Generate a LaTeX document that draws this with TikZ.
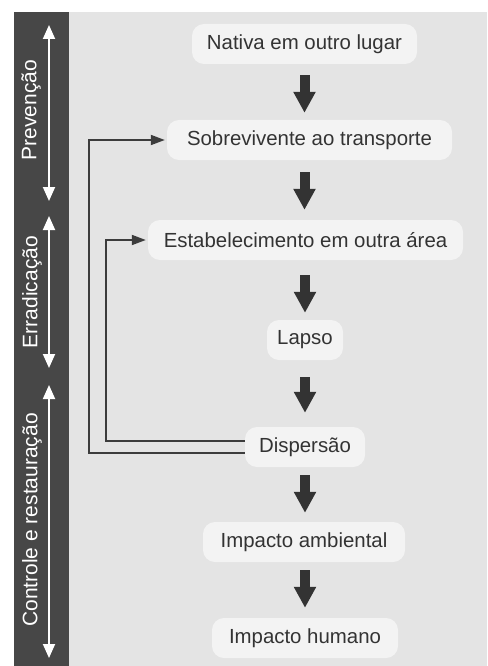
\documentclass[tikz,border=0pt]{standalone}
\usepackage{fontspec}
\setmainfont{Liberation Sans}
\usetikzlibrary{arrows.meta}
\definecolor{bandgrey}{HTML}{474747}
\definecolor{bggrey}{HTML}{E4E4E4}
\definecolor{boxgrey}{HTML}{F3F3F3}
\definecolor{txtgrey}{HTML}{333333}
\definecolor{arrgrey}{HTML}{333333}
\definecolor{linegrey}{HTML}{3C3C3C}
\tikzset{
  stage/.style={rectangle, rounded corners=12pt, fill=boxgrey, text=txtgrey,
    minimum height=40pt, inner sep=0pt,
    font=\fontsize{20.4}{24}\selectfont},
  blockarrow/.style={draw=arrgrey, line width=10pt,
    -{Triangle[width=21pt,length=21pt]}},
  feedback/.style={draw=linegrey, line width=1.8pt,
    -{Triangle[width=10pt,length=14pt]}, shorten >=2pt},
  phase/.style={rotate=90, text=white, font=\fontsize{21}{25}\selectfont},
  phasearrow/.style={draw=white, line width=1.8pt,
    {Triangle[width=12pt,length=14pt]}-{Triangle[width=12pt,length=14pt]}}
}
\begin{document}
\begin{tikzpicture}[x=1pt,y=-1pt]
  \useasboundingbox (0,0) rectangle (487,666);
  \fill[white] (0,0) rectangle (487,666);
  \fill[bggrey] (69,12) rectangle (487,666);
  \fill[bandgrey] (14,12) rectangle (69,666);

  % phase arrows and labels
  \coordinate (p1a) at (49,25);  \coordinate (p1b) at (49,201);
  \coordinate (p2a) at (49,216); \coordinate (p2b) at (49,368);
  \coordinate (p3a) at (49,385); \coordinate (p3b) at (49,658);
  \draw[phasearrow] (p1a) -- (p1b);
  \draw[phasearrow] (p2a) -- (p2b);
  \draw[phasearrow] (p3a) -- (p3b);
  \node[phase] (prev) at (31,110) {Prevenção};
  \node[phase] (erra) at (32,292) {Erradicação};
  \node[phase] (cont) at (32,520) {Controle e restauração};

  % stages
  \node[stage, minimum width=225pt] (nat) at (304.5,44) {Nativa em outro lugar};
  \node[stage, minimum width=285pt] (sob) at (309.5,140) {Sobrevivente ao transporte};
  \node[stage, minimum width=315pt] (est) at (305.5,240) {Estabelecimento em outra área};
  \node[stage, minimum width=76pt]  (lap) at (305,340) {Lapso};
  \node[stage, minimum width=120pt] (dis) at (305,447) {Dispersão};
  \node[stage, minimum width=202pt] (iam) at (304,542) {Impacto ambiental};
  \node[stage, minimum width=186pt] (ihu) at (305,638) {Impacto humano};

  % block arrows
  \draw[blockarrow, shorten <=11pt, shorten >=7pt] (nat.south) -- (nat.south |- sob.north);
  \draw[blockarrow, shorten <=12pt, shorten >=10pt] (sob.south -| nat.south) -- (nat.south |- est.north);
  \draw[blockarrow, shorten <=15pt, shorten >=7pt] (est.south -| lap.south) -- (lap.north);
  \draw[blockarrow, shorten <=17pt, shorten >=14pt] (lap.south) -- (dis.north);
  \draw[blockarrow, shorten <=8pt, shorten >=9pt] (dis.south) -- (dis.south |- iam.north);
  \draw[blockarrow, shorten <=8pt, shorten >=10pt] (iam.south -| ihu.north) -- (ihu.north);

  % feedback connectors
  \coordinate (o1) at (89,0);
  \coordinate (o2) at (106,0);
  \draw[feedback] ([yshift=-6pt]dis.west) -| (o1 |- sob.west) -- (sob.west);
  \draw[feedback] ([yshift=6pt]dis.west) -| (o2 |- est.west) -- (est.west);
\end{tikzpicture}
\end{document}
